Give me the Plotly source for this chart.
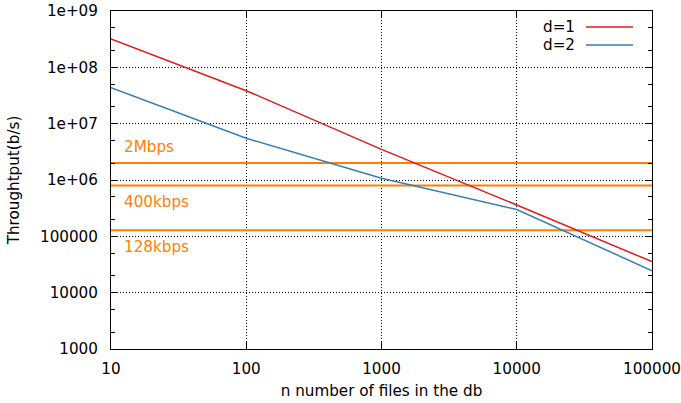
import math
import plotly.graph_objects as go

# Throughput vs. number of files, log-log
n_files = [10, 100, 1000, 10000, 100000]
thr_d1 = [3.2e8, 3.85e7, 3.5e6, 3.6e5, 3.55e4]
thr_d2 = [4.35e7, 5.5e6, 1.07e6, 3.0e5, 2.45e4]

# Reference bit rates drawn as horizontal lines
rate_labels = ["2Mbps", "400kbps", "128kbps"]
rate_values = [2.0e6, 8.0e5, 1.28e5]
rate_label_above = [True, False, False]

x_ticks = [10, 100, 1000, 10000, 100000]
x_ticktext = ["10", "100", "1000", "10000", "100000"]
y_ticks = [1e3, 1e4, 1e5, 1e6, 1e7, 1e8, 1e9]
y_ticktext = ["1000", "10000", "100000", "1e+06", "1e+07", "1e+08", "1e+09"]
y_minor = [m * 10 ** k for k in range(3, 9) for m in (2, 5)]

RED = "#e41a1c"
BLUE = "#377eb8"
ORANGE = "#ff7f00"
FONT = "DejaVu Sans"
FS = 15.2

fig = go.Figure()

for val in rate_values:
    fig.add_trace(go.Scatter(
        x=[x_ticks[0], x_ticks[-1]], y=[val, val], mode="lines",
        line=dict(color=ORANGE, width=2), showlegend=False, hoverinfo="skip"))

fig.add_trace(go.Scatter(x=n_files, y=thr_d1, mode="lines", name="d=1",
                         line=dict(color=RED, width=1.5), showlegend=False))
fig.add_trace(go.Scatter(x=n_files, y=thr_d2, mode="lines", name="d=2",
                         line=dict(color=BLUE, width=1.5), showlegend=False))

annotations = []
for lab, val, above in zip(rate_labels, rate_values, rate_label_above):
    annotations.append(dict(
        x=0.02, xref="paper", y=math.log10(val), yref="y",
        text=lab, showarrow=False, xanchor="left", yanchor="middle",
        yshift=16 if above else -17,
        font=dict(family=FONT, size=FS, color=ORANGE)))

# Key in the upper right: label on the left, line sample on the right
key = [("d=1", RED, 0.9527), ("d=2", BLUE, 0.8994)]
shapes = []
for lab, col, yy in key:
    annotations.append(dict(
        x=0.862, xref="paper", y=yy, yref="paper", text=lab, showarrow=False,
        xanchor="right", yanchor="middle",
        font=dict(family=FONT, size=FS, color="black")))
    shapes.append(dict(type="line", xref="paper", yref="paper",
                       x0=0.878, x1=0.965, y0=yy, y1=yy,
                       line=dict(color=col, width=1.5)))

axis_common = dict(
    showline=True, linecolor="black", linewidth=1, mirror="ticks",
    ticks="inside", ticklen=7, tickcolor="black", tickwidth=1,
    showgrid=True, gridcolor="black", gridwidth=1, griddash="1px,2px",
    zeroline=False, automargin=False,
    tickfont=dict(family=FONT, size=FS, color="black"),
)

fig.update_xaxes(
    type="log", range=[1, 5], tickmode="array", tickvals=x_ticks,
    ticktext=x_ticktext, ticklabelstandoff=6,
    title=dict(text="n number of files in the db", standoff=8,
               font=dict(family=FONT, size=FS, color="black")),
    **axis_common)
fig.update_yaxes(
    type="log", range=[3, 9], tickmode="array", tickvals=y_ticks,
    ticktext=y_ticktext, ticklabelstandoff=9,
    minor=dict(tickmode="array", tickvals=y_minor, ticks="inside",
               ticklen=4, tickcolor="black", showgrid=False),
    title=dict(text="Throughtput(b/s)", standoff=16,
               font=dict(family=FONT, size=FS, color="black")),
    **axis_common)

fig.update_layout(
    width=681, height=403,
    margin=dict(l=111, r=29, t=11, b=54, pad=0),
    paper_bgcolor="white", plot_bgcolor="white",
    annotations=annotations, shapes=shapes,
    showlegend=False,
)

fig.write_html("out.html")
